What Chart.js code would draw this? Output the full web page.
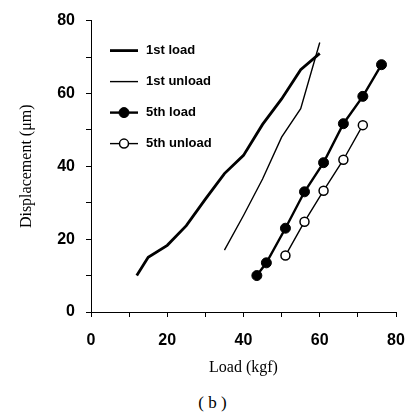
<!DOCTYPE html>
<html>
<head>
<meta charset="utf-8">
<script src="https://cdn.jsdelivr.net/npm/chart.js@4.4.1/dist/chart.umd.min.js"></script>
<style>
    html, body { margin: 0; padding: 0; background: #fff; }
    #wrap { position: relative; width: 406px; height: 412px; }
    #chart { display: block; }
    #caption {
        position: absolute; left: 0; top: 394px; width: 425px;
        text-align: center; line-height: 17px;
        font-family: "Liberation Serif", serif; font-size: 17px; color: #000;
    }
</style>
</head>
<body>
<div id="wrap">
    <canvas id="chart" width="406" height="385"></canvas>
    <div id="caption">( b )</div>
</div>
<script>
// load (kgf) / displacement (um) for each cycle
const load1st = [12, 15, 20, 25, 30, 35, 40, 45, 50, 55, 60];
const disp1stLoad = [10, 15, 18.3, 23.7, 31, 38, 43, 51.5, 58.5, 66.5, 71];
const unload1st = [35, 40, 45, 50, 55, 60];
const disp1stUnload = [17, 26.5, 36.5, 48, 55.8, 74];
const load5th = [43.5, 46, 51, 56, 61, 66.2, 71.3, 76.2];
const disp5thLoad = [10, 13.5, 23, 33, 41, 51.7, 59.2, 67.9];
const unload5th = [51, 56, 61, 66.2, 71.3];
const disp5thUnload = [15.5, 24.8, 33.3, 41.8, 51.3];
const axisTicks = [0, 20, 40, 60, 80];

const toPoints = (xs, ys) => xs.map((x, i) => ({ x: x, y: ys[i] }));

// legend drawn inside the plot: short line sample, marker, bold label
const insideLegend = {
    id: 'insideLegend',
    afterDraw(chart) {
        const { ctx, chartArea } = chart;
        chart.data.datasets.forEach((ds, i) => {
            const y = chartArea.top + 30 + i * 31;
            const x0 = chartArea.left + 19, x1 = chartArea.left + 47;
            ctx.save();
            ctx.strokeStyle = ds.borderColor;
            ctx.lineWidth = ds.borderWidth;
            ctx.beginPath();
            ctx.moveTo(x0, y);
            ctx.lineTo(x1, y);
            ctx.stroke();
            if (ds.pointRadius > 0) {
                ctx.beginPath();
                ctx.arc((x0 + x1) / 2, y, ds.pointRadius, 0, Math.PI * 2);
                ctx.fillStyle = ds.pointBackgroundColor;
                ctx.fill();
                ctx.lineWidth = ds.pointBorderWidth;
                ctx.strokeStyle = ds.pointBorderColor;
                ctx.stroke();
            }
            ctx.fillStyle = '#000';
            ctx.font = 'bold 13px "Liberation Sans", Arial, sans-serif';
            ctx.textBaseline = 'middle';
            ctx.textAlign = 'left';
            ctx.fillText(ds.label, chartArea.left + 55, y);
            ctx.restore();
        });
    }
};

const tickFont = { family: '"Liberation Sans", Arial, sans-serif', size: 16, weight: 'bold' };
const titleFont = { family: '"Liberation Serif", "Times New Roman", serif', size: 16 };
const everyOther = (v) => axisTicks.includes(v) ? v : '';

Chart.defaults.color = '#000';

new Chart(document.getElementById('chart'), {
    type: 'scatter',
    data: {
        datasets: [
            {
                label: '1st load',
                data: toPoints(load1st, disp1stLoad),
                showLine: true, borderColor: '#000', borderWidth: 2.8,
                pointRadius: 0,
            },
            {
                label: '1st unload',
                data: toPoints(unload1st, disp1stUnload),
                showLine: true, borderColor: '#000', borderWidth: 1.4,
                pointRadius: 0,
            },
            {
                label: '5th load',
                data: toPoints(load5th, disp5thLoad),
                showLine: true, borderColor: '#000', borderWidth: 2.4,
                pointRadius: 5, pointBackgroundColor: '#000',
                pointBorderColor: '#000', pointBorderWidth: 1,
            },
            {
                label: '5th unload',
                data: toPoints(unload5th, disp5thUnload),
                showLine: true, borderColor: '#000', borderWidth: 1.4,
                pointRadius: 4.5, pointBackgroundColor: '#fff',
                pointBorderColor: '#000', pointBorderWidth: 1.5,
            },
        ]
    },
    options: {
        responsive: false,
        animation: false,
        layout: { padding: { top: 19, right: 10, left: 0, bottom: 0 } },
        plugins: {
            legend: { display: false },
            tooltip: { enabled: false },
        },
        scales: {
            x: {
                type: 'linear',
                min: 0, max: 80,
                grid: { drawOnChartArea: false, drawTicks: true, tickLength: 5, color: '#000' },
                border: { display: true, color: '#000', width: 1 },
                ticks: { stepSize: 10, padding: 14, font: tickFont, callback: everyOther, maxRotation: 0, autoSkip: false },
                title: { display: true, text: 'Load (kgf)', font: titleFont, padding: { top: 8, bottom: 7.4 } },
                // fixed band under the plot; the "80" label may hang into the right margin
                afterFit: (scale) => { scale.height = 73; scale.paddingRight = 9; },
            },
            y: {
                type: 'linear',
                min: 0, max: 80,
                grid: { drawOnChartArea: false, drawTicks: true, tickLength: 5, color: '#000' },
                border: { display: true, color: '#000', width: 1 },
                ticks: { stepSize: 10, padding: 11, font: tickFont, callback: everyOther, autoSkip: false },
                title: { display: true, text: 'Displacement (μm)', font: titleFont, padding: { top: 17.4, bottom: 0 } },
                afterFit: (scale) => { scale.width = 91; },
            }
        }
    },
    plugins: [insideLegend],
});
</script>
</body>
</html>
